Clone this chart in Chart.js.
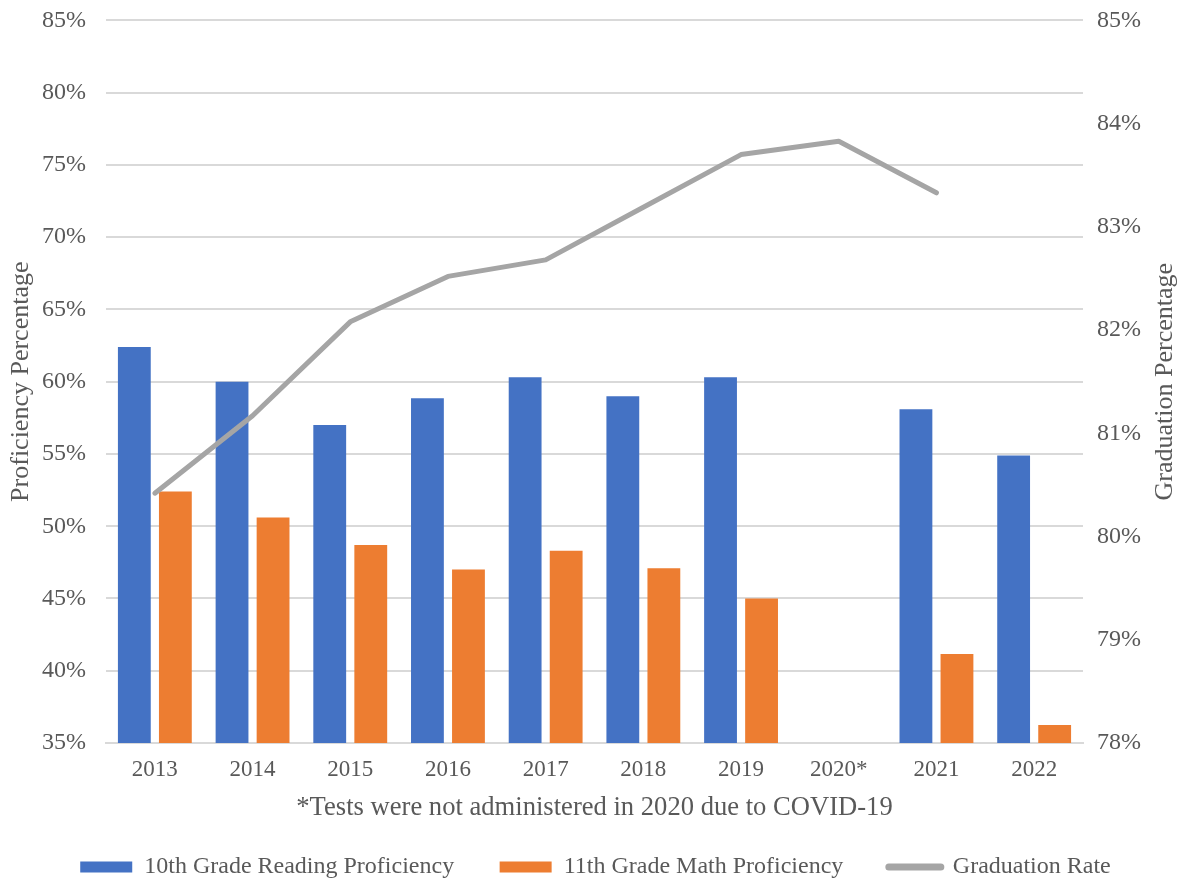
<!DOCTYPE html>
<html>
<head>
<meta charset="utf-8">
<script src="https://cdn.jsdelivr.net/npm/chart.js@4"></script>
<style>
  body { margin: 0; background: #fff; }
  #wrap { width: 1185px; height: 882px; }
</style>
</head>
<body>
<div id="wrap"><canvas id="gradChart"></canvas></div>
<script>
// chart values (percent)
const years = ["2013", "2014", "2015", "2016", "2017", "2018", "2019", "2020*", "2021", "2022"];
const reading10 = [62.4, 60.0, 57.0, 58.85, 60.3, 59.0, 60.3, null, 58.1, 54.9];
const math11 = [52.4, 50.6, 48.7, 47.0, 48.3, 47.1, 45.0, null, 41.15, 36.25];
const gradRate = [80.42, 81.17, 82.08, 82.52, 82.68, 83.19, 83.70, 83.83, 83.33, null];

const leftTicks = [35, 40, 45, 50, 55, 60, 65, 70, 75, 80, 85];
const rightTicks = [78, 79, 80, 81, 82, 83, 84, 85];

const serif = "'Liberation Serif', 'Times New Roman', serif";
const textGrey = "#595959";

// right axis title reads bottom to top like the left one, so draw it ourselves
const rightTitle = {
    id: "rightTitle",
    afterDraw(chart) {
        let ctx = chart.ctx;
        let area = chart.chartArea;
        ctx.save();
        ctx.translate(chart.width - 20, (area.top + area.bottom) / 2);
        ctx.rotate(-Math.PI / 2);
        ctx.font = "26px " + serif;
        ctx.fillStyle = textGrey;
        ctx.textAlign = "center";
        ctx.textBaseline = "middle";
        ctx.fillText("Graduation Percentage", 0, 0);
        ctx.restore();
    }
};

let ctx = document.getElementById("gradChart").getContext("2d");

let chart = new Chart(ctx, {
    type: "bar",
    data: {
        labels: years,
        datasets: [{
            type: "line",
            label: "Graduation Rate",
            data: gradRate,
            yAxisID: "y2",
            borderColor: "#A5A5A5",
            backgroundColor: "#A5A5A5",
            borderWidth: 5,
            pointRadius: 0,
            tension: 0,
            borderCapStyle: "round",
            borderJoinStyle: "round",
            order: 0
        }, {
            label: "10th Grade Reading Proficiency",
            data: reading10,
            yAxisID: "y",
            backgroundColor: "#4472C4",
            order: 1
        }, {
            label: "11th Grade Math Proficiency",
            data: math11,
            yAxisID: "y",
            backgroundColor: "#ED7D31",
            order: 1
        }]
    },
    options: {
        responsive: true,
        maintainAspectRatio: false,
        animation: false,
        layout: { padding: { left: 6, right: 0, top: 0, bottom: -7 } },
        datasets: {
            bar: { categoryPercentage: 0.84, barPercentage: 0.8 }
        },
        plugins: {
            tooltip: { enabled: false },
            legend: {
                position: "bottom",
                labels: {
                    font: { family: serif, size: 24 },
                    color: textGrey,
                    boxWidth: 52,
                    boxHeight: 11,
                    padding: 45.5,
                    usePointStyle: true,
                    pointStyleWidth: 52,
                    sort: (a, b) => a.datasetIndex === 0 ? 1 : (b.datasetIndex === 0 ? -1 : a.datasetIndex - b.datasetIndex),
                    generateLabels: function(c) {
                        let items = Chart.defaults.plugins.legend.labels.generateLabels(c);
                        items.forEach(it => {
                            if (it.datasetIndex === 0) {
                                it.pointStyle = "line";
                                it.lineWidth = 7;
                                it.lineCap = "round";
                                it.strokeStyle = "#A5A5A5";
                            } else {
                                it.pointStyle = "rect";
                                it.lineWidth = 0;
                            }
                        });
                        return items;
                    }
                }
            }
        },
        scales: {
            x: {
                grid: { display: false },
                border: { display: true, color: "#D9D9D9", width: 2 },
                ticks: { font: { family: serif, size: 23 }, color: textGrey, padding: 5 },
                title: {
                    display: true,
                    text: "*Tests were not administered in 2020 due to COVID-19",
                    font: { family: serif, size: 26.6 },
                    color: textGrey,
                    padding: { top: 7, bottom: -14 }
                },
                afterFit: axis => { axis.height = 66.5; }
            },
            y: {
                position: "left",
                min: 35,
                max: 85,
                afterBuildTicks: axis => { axis.ticks = leftTicks.map(v => ({ value: v })); },
                afterFit: axis => { axis.width = 100; },
                grid: { color: "#D9D9D9", lineWidth: 2, drawTicks: true, tickLength: 16, tickColor: "rgba(0,0,0,0)" },
                border: { display: false },
                ticks: {
                    font: { family: serif, size: 24 },
                    color: textGrey,
                    padding: 4,
                    callback: v => v + "%"
                },
                title: {
                    display: true,
                    text: "Proficiency Percentage",
                    font: { family: serif, size: 26 },
                    color: textGrey,
                    padding: 0
                }
            },
            y2: {
                position: "right",
                min: 78,
                max: 85,
                afterBuildTicks: axis => { axis.ticks = rightTicks.map(v => ({ value: v })); },
                afterFit: axis => { axis.width = 102; },
                grid: { drawOnChartArea: false, drawTicks: true, tickLength: 8, color: "rgba(0,0,0,0)", tickColor: "rgba(0,0,0,0)" },
                border: { display: false },
                ticks: {
                    font: { family: serif, size: 24 },
                    color: textGrey,
                    padding: 6,
                    callback: v => v + "%"
                }
            }
        }
    },
    plugins: [rightTitle]
});
</script>
</body>
</html>
